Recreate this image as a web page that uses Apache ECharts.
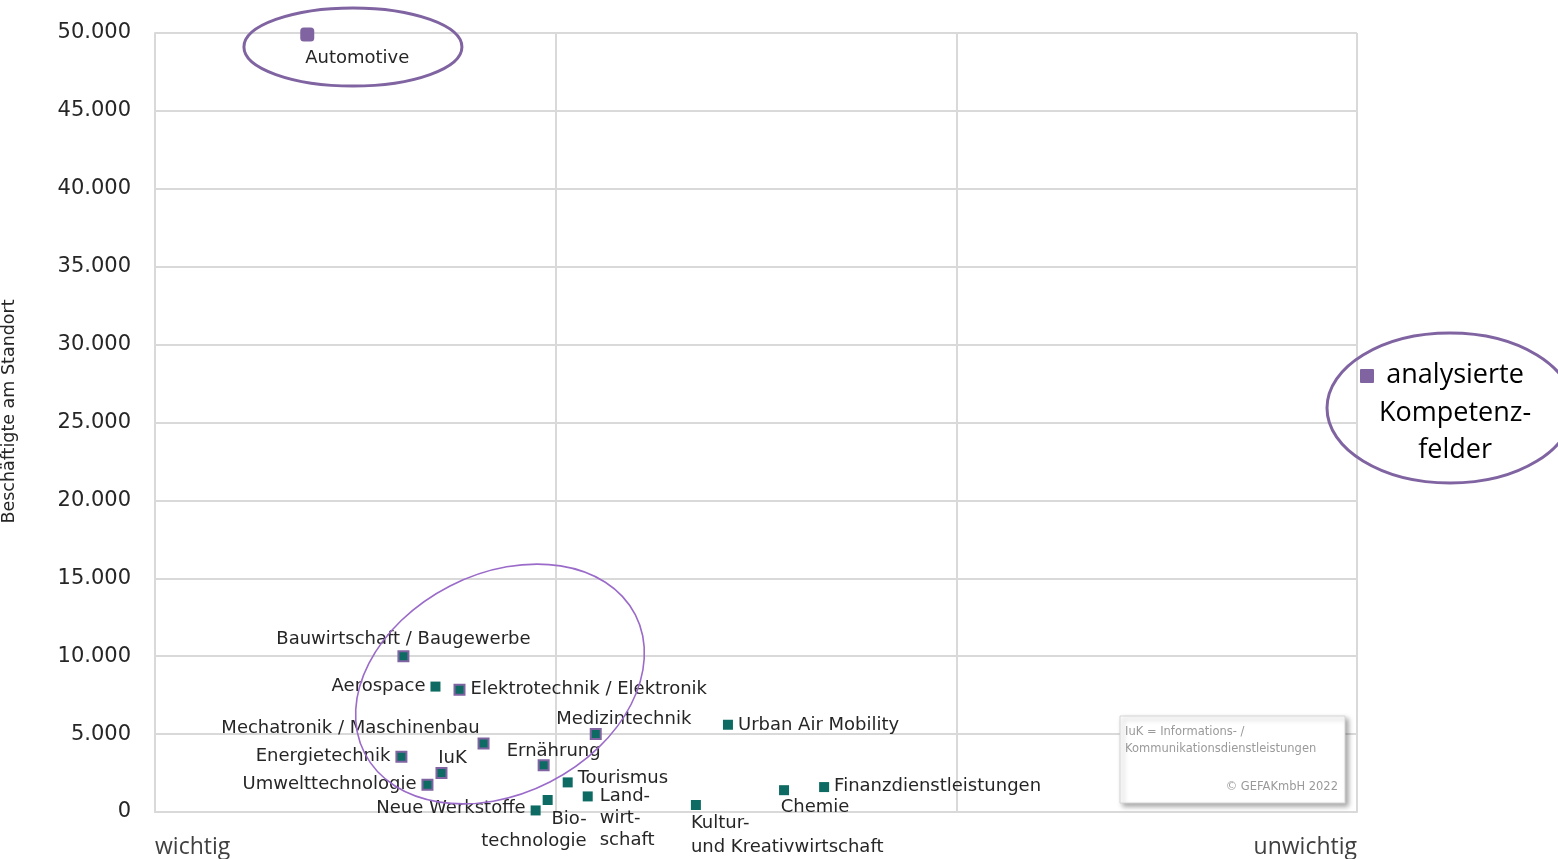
<!DOCTYPE html>
<html>
<head>
<meta charset="utf-8">
<script src="https://cdn.jsdelivr.net/npm/echarts@6/dist/echarts.min.js"></script>
<style>
html,body{margin:0;padding:0;background:#fff;}
#chart{width:1558px;height:859px;}
</style>
</head>
<body>
<div id="chart"></div>
<script>
// ---- data ----
const xTickLabels = ['wichtig', '', '', 'unwichtig'];
const yTickLabels = ['0', '5.000', '10.000', '15.000', '20.000', '25.000', '30.000', '35.000', '40.000', '45.000', '50.000'];

const analysedNames = ['Automotive', 'Bauwirtschaft / Baugewerbe', 'Elektrotechnik / Elektronik', 'Mechatronik / Maschinenbau', 'Energietechnik', 'IuK', 'Umwelttechnologie', 'Ernährung', 'Medizintechnik'];
const analysedX = [0.38, 0.62, 0.76, 0.82, 0.615, 0.715, 0.68, 0.97, 1.10];
const analysedY = [49900, 10000, 7850, 4400, 3550, 2500, 1750, 3000, 5000];

const otherNames = ['Aerospace', 'Neue Werkstoffe', 'Bio-\ntechnologie', 'Tourismus', 'Land-\nwirt-\nschaft', 'Kultur-\nund Kreativwirtschaft', 'Urban Air Mobility', 'Chemie', 'Finanzdienstleistungen'];
const otherX = [0.70, 0.95, 0.98, 1.03, 1.08, 1.35, 1.43, 1.57, 1.67];
const otherY = [8050, 100, 770, 1900, 1000, 450, 5600, 1400, 1600];

// ---- styles ----
const PURPLE = '#8064A2';
const TEAL = '#0E6B63';
const LABEL_FONT = 'DejaVu Sans';

const labelPlacement = {
  'Automotive': {position: 'bottom', offset: [50, 1]},
  'Bauwirtschaft / Baugewerbe': {position: 'top', offset: [0, 5]},
  'Elektrotechnik / Elektronik': {position: 'right', offset: [0, 0]},
  'Mechatronik / Maschinenbau': {position: 'top', offset: [-133, 7]},
  'Energietechnik': {position: 'left', offset: [0, 0]},
  'IuK': {position: 'top', offset: [11, 7]},
  'Umwelttechnologie': {position: 'left', offset: [0, 0]},
  'Ernährung': {position: 'top', offset: [10, 8]},
  'Medizintechnik': {position: 'top', offset: [28, 7]},
  'Aerospace': {position: 'left', offset: [0, 0]},
  'Neue Werkstoffe': {position: 'left', offset: [0, -2]},
  'Bio-\ntechnologie': {position: 'bottom', align: 'right', offset: [39, -2]},
  'Tourismus': {position: 'right', offset: [0, -4]},
  'Land-\nwirt-\nschaft': {position: 'right', verticalAlign: 'top', offset: [2, -11]},
  'Kultur-\nund Kreativwirtschaft': {position: 'bottom', align: 'left', offset: [-5, -4], lineHeight: 24},
  'Urban Air Mobility': {position: 'right', offset: [0, 1]},
  'Chemie': {position: 'bottom', offset: [31, -4]},
  'Finanzdienstleistungen': {position: 'right', offset: [0, -1]}
};

function makeData(names, xs, ys) {
  return names.map(function (n, i) {
    const item = {name: n, value: [xs[i], ys[i]], label: labelPlacement[n] || {}};
    if (n === 'Automotive') {
      item.itemStyle = {color: PURPLE, borderWidth: 0};
      item.symbol = 'roundRect';
    }
    return item;
  });
}

const baseLabel = {
  show: true,
  formatter: '{b}',
  fontFamily: LABEL_FONT,
  fontSize: 18,
  lineHeight: 22,
  color: '#262626',
  distance: 5
};

const chart = echarts.init(document.getElementById('chart'), null, {renderer: 'canvas'});

const option = {
  backgroundColor: '#fff',
  animation: false,
  grid: {left: 155, right: 201, top: 33, bottom: 47, containLabel: false, outerBoundsMode: 'none'},
  legend: {
    data: [{
      name: 'analysierte Kompetenzfelder',
      icon: 'path://M1,0L13,0Q14,0 14,1L14,13Q14,14 13,14L1,14Q0,14 0,13L0,1Q0,0 1,0Z M0,88L0.01,88',
      itemStyle: {color: PURPLE, borderWidth: 0}
    }],
    left: 1360,
    top: 362,
    padding: 0,
    itemWidth: 14,
    itemHeight: 88,
    selectedMode: false,
    formatter: function () { return '{c|analysierte}\n{c|Kompetenz-}\n{c|felder}'; },
    textStyle: {
      fontFamily: 'Open Sans', fontSize: 27, color: '#000',
      rich: {c: {fontFamily: 'Open Sans', fontSize: 27, lineHeight: 37.5, color: '#000', align: 'center'}}
    }
  },
  xAxis: {
    type: 'value',
    min: 0, max: 3, interval: 1,
    axisLine: {show: true, lineStyle: {color: '#d9d9d9', width: 2}},
    axisTick: {show: false},
    splitLine: {show: true, showMinLine: true, showMaxLine: true, lineStyle: {color: '#d9d9d9', width: 2}},
    axisLabel: {
      show: true,
      margin: 24,
      fontFamily: 'Open Sans', fontSize: 23, color: '#404040',
      alignMinLabel: 'left', alignMaxLabel: 'right',
      showMinLabel: true, showMaxLabel: true,
      formatter: function (v) { return xTickLabels[Math.round(v)] || ''; }
    }
  },
  yAxis: {
    type: 'value',
    min: 0, max: 50000, interval: 5000,
    name: 'Beschäftigte am Standort',
    nameLocation: 'middle',
    nameGap: 137,
    nameTextStyle: {fontFamily: LABEL_FONT, fontSize: 17.5, color: '#262626', padding: [0, 0, 0, 22]},
    axisLine: {show: true, lineStyle: {color: '#d9d9d9', width: 2}},
    axisTick: {show: false},
    splitLine: {show: true, lineStyle: {color: '#d9d9d9', width: 2}},
    axisLabel: {
      margin: 24,
      fontFamily: LABEL_FONT, fontSize: 21, color: '#262626',
      formatter: function (v) { return yTickLabels[Math.round(v / 5000)]; }
    }
  },
  series: [
    {
      name: 'weitere Kompetenzfelder',
      type: 'scatter',
      symbol: 'rect',
      symbolSize: 10,
      itemStyle: {color: TEAL, opacity: 1},
      label: baseLabel,
      data: makeData(otherNames, otherX, otherY),
      z: 2
    },
    {
      name: 'analysierte Kompetenzfelder',
      type: 'scatter',
      symbol: 'rect',
      symbolSize: function (val, p) { return p.name === 'Automotive' ? 14 : 10; },
      itemStyle: {color: TEAL, borderColor: PURPLE, borderWidth: 2, opacity: 1},
      label: baseLabel,
      data: makeData(analysedNames, analysedX, analysedY),
      z: 3
    }
  ]
};

chart.setOption(option);

// ---- annotations (anchored to data coordinates) ----
const autoC = chart.convertToPixel({gridIndex: 0}, [0.494, 49100]);
const clusterC = chart.convertToPixel({gridIndex: 0}, [0.861, 8216]);

chart.setOption({
  graphic: [
    {
      id: 'ellAuto', type: 'ellipse', x: autoC[0], y: autoC[1],
      shape: {cx: 0, cy: 0, rx: 109, ry: 39},
      style: {fill: 'none', stroke: PURPLE, lineWidth: 3}, z: 10
    },
    {
      id: 'ellCluster', type: 'ellipse', x: clusterC[0], y: clusterC[1],
      rotation: 27 * Math.PI / 180,
      shape: {cx: 0, cy: 0, rx: 152, ry: 110},
      style: {fill: 'none', stroke: '#9B6BC9', lineWidth: 1.6}, z: 10
    },
    {
      id: 'ellLegend', type: 'ellipse', x: 1450, y: 408,
      shape: {cx: 0, cy: 0, rx: 123, ry: 75},
      style: {fill: 'none', stroke: PURPLE, lineWidth: 3}, z: 10
    },
    {
      id: 'noteBox', type: 'group', x: 1120, y: 716, z: 20,
      children: [
        {
          type: 'rect', shape: {x: 0, y: 0, width: 225, height: 87},
          style: {fill: '#fff', stroke: '#d4d4d4', lineWidth: 1,
            shadowBlur: 5, shadowOffsetX: 3, shadowOffsetY: 3, shadowColor: 'rgba(0,0,0,0.35)'}
        },
        {
          type: 'text', x: 5, y: 8,
          style: {text: 'IuK = Informations- /\nKommunikationsdienstleistungen',
            font: '11.5px "DejaVu Sans"', fill: '#9a9a9a', lineHeight: 17}
        },
        {
          type: 'text', x: 218, y: 71,
          style: {text: '© GEFAKmbH 2022', font: '11.5px "DejaVu Sans"', fill: '#9a9a9a',
            align: 'right', verticalAlign: 'middle'}
        }
      ]
    }
  ]
});
</script>
</body>
</html>
